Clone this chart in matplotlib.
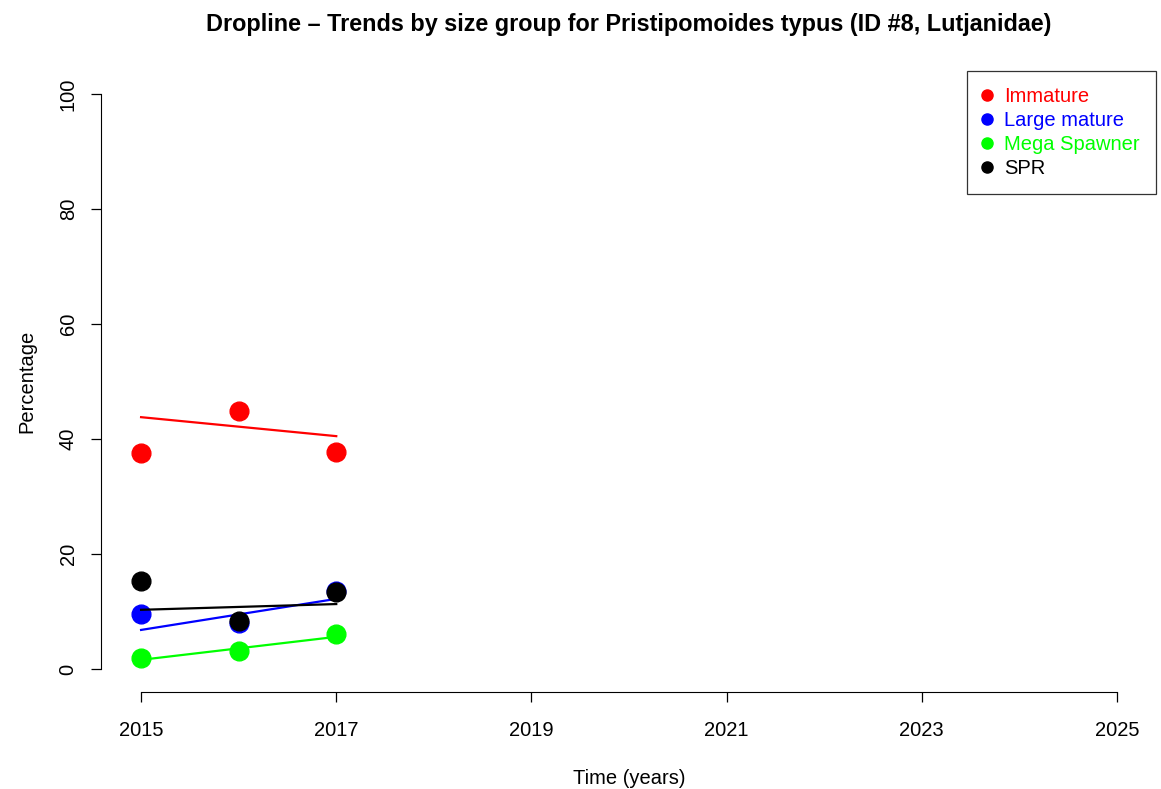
import numpy as np
import matplotlib
matplotlib.use("Agg")
import matplotlib.pyplot as plt

plt.rcParams['font.family'] = ['Liberation Sans', 'DejaVu Sans']

# datos
anios = [2015, 2016, 2017]
grupos = ["Immature", "Large mature", "Mega Spawner", "SPR"]
colores = ["#ff0000", "#0000ff", "#00ff00", "#000000"]
inmaduro = [37.6, 44.9, 37.7]
maduro_grande = [9.6, 8.0, 13.6]
mega_desovante = [2.0, 3.1, 6.1]
spr = [15.3, 8.3, 13.4]
# tendencia: valor al inicio (2015) y al final (2017)
tend_inicio = [43.8, 6.8, 1.6, 10.3]
tend_fin = [40.5, 12.2, 5.6, 11.3]

series = [inmaduro, maduro_grande, mega_desovante, spr]

fig = plt.figure(figsize=(11.61, 7.89), dpi=100)
ax = fig.add_axes([0.0879, 0.1229, 0.9078, 0.7871])

for i, (nombre, col, vals) in enumerate(zip(grupos, colores, series)):
    ax.plot(anios, vals, 'o', color=col, markersize=13.5, linestyle='none')
    ax.plot([anios[0], anios[-1]], [tend_inicio[i], tend_fin[i]], color=col, lw=1.6)

ax.set_xlim(2014.6, 2025.4)
ax.set_ylim(-4, 104)
for s in ['top', 'right']:
    ax.spines[s].set_visible(False)
ax.spines['left'].set_bounds(0, 100)
ax.spines['bottom'].set_bounds(2015, 2025)
ax.spines['left'].set_position(('outward', 1))
ax.set_xticks([2015, 2017, 2019, 2021, 2023, 2025])
ax.set_yticks([0, 20, 40, 60, 80, 100])
ax.tick_params(labelsize=14.5, length=7, width=0.9)
ax.tick_params(axis='x', pad=14)
ax.tick_params(axis='y', pad=9.5)
plt.setp(ax.get_yticklabels(), rotation=90, va='center')
ax.set_xlabel("Time (years)", fontsize=14.5, labelpad=21)
ax.set_ylabel("Percentage", fontsize=14.5, labelpad=16)
ax.set_title("Dropline \u2013 Trends by size group for Pristipomoides typus (ID #8, Lutjanidae)",
             fontsize=16.8, fontweight='bold', pad=28.5)

manijas = [plt.Line2D([], [], marker='o', color=c, linestyle='none', markersize=8) for c in colores]
leg = ax.legend(manijas, grupos, loc='upper right', bbox_to_anchor=(1.0, 1.0), fontsize=14.5,
                frameon=True, fancybox=False, edgecolor='black', handlelength=0.4,
                handletextpad=0.65, borderpad=0.8, labelspacing=0.24, borderaxespad=0)
leg.get_frame().set_linewidth(0.9)
for t, c in zip(leg.get_texts(), colores):
    t.set_color(c)

fig.savefig("out.png", dpi=100)
